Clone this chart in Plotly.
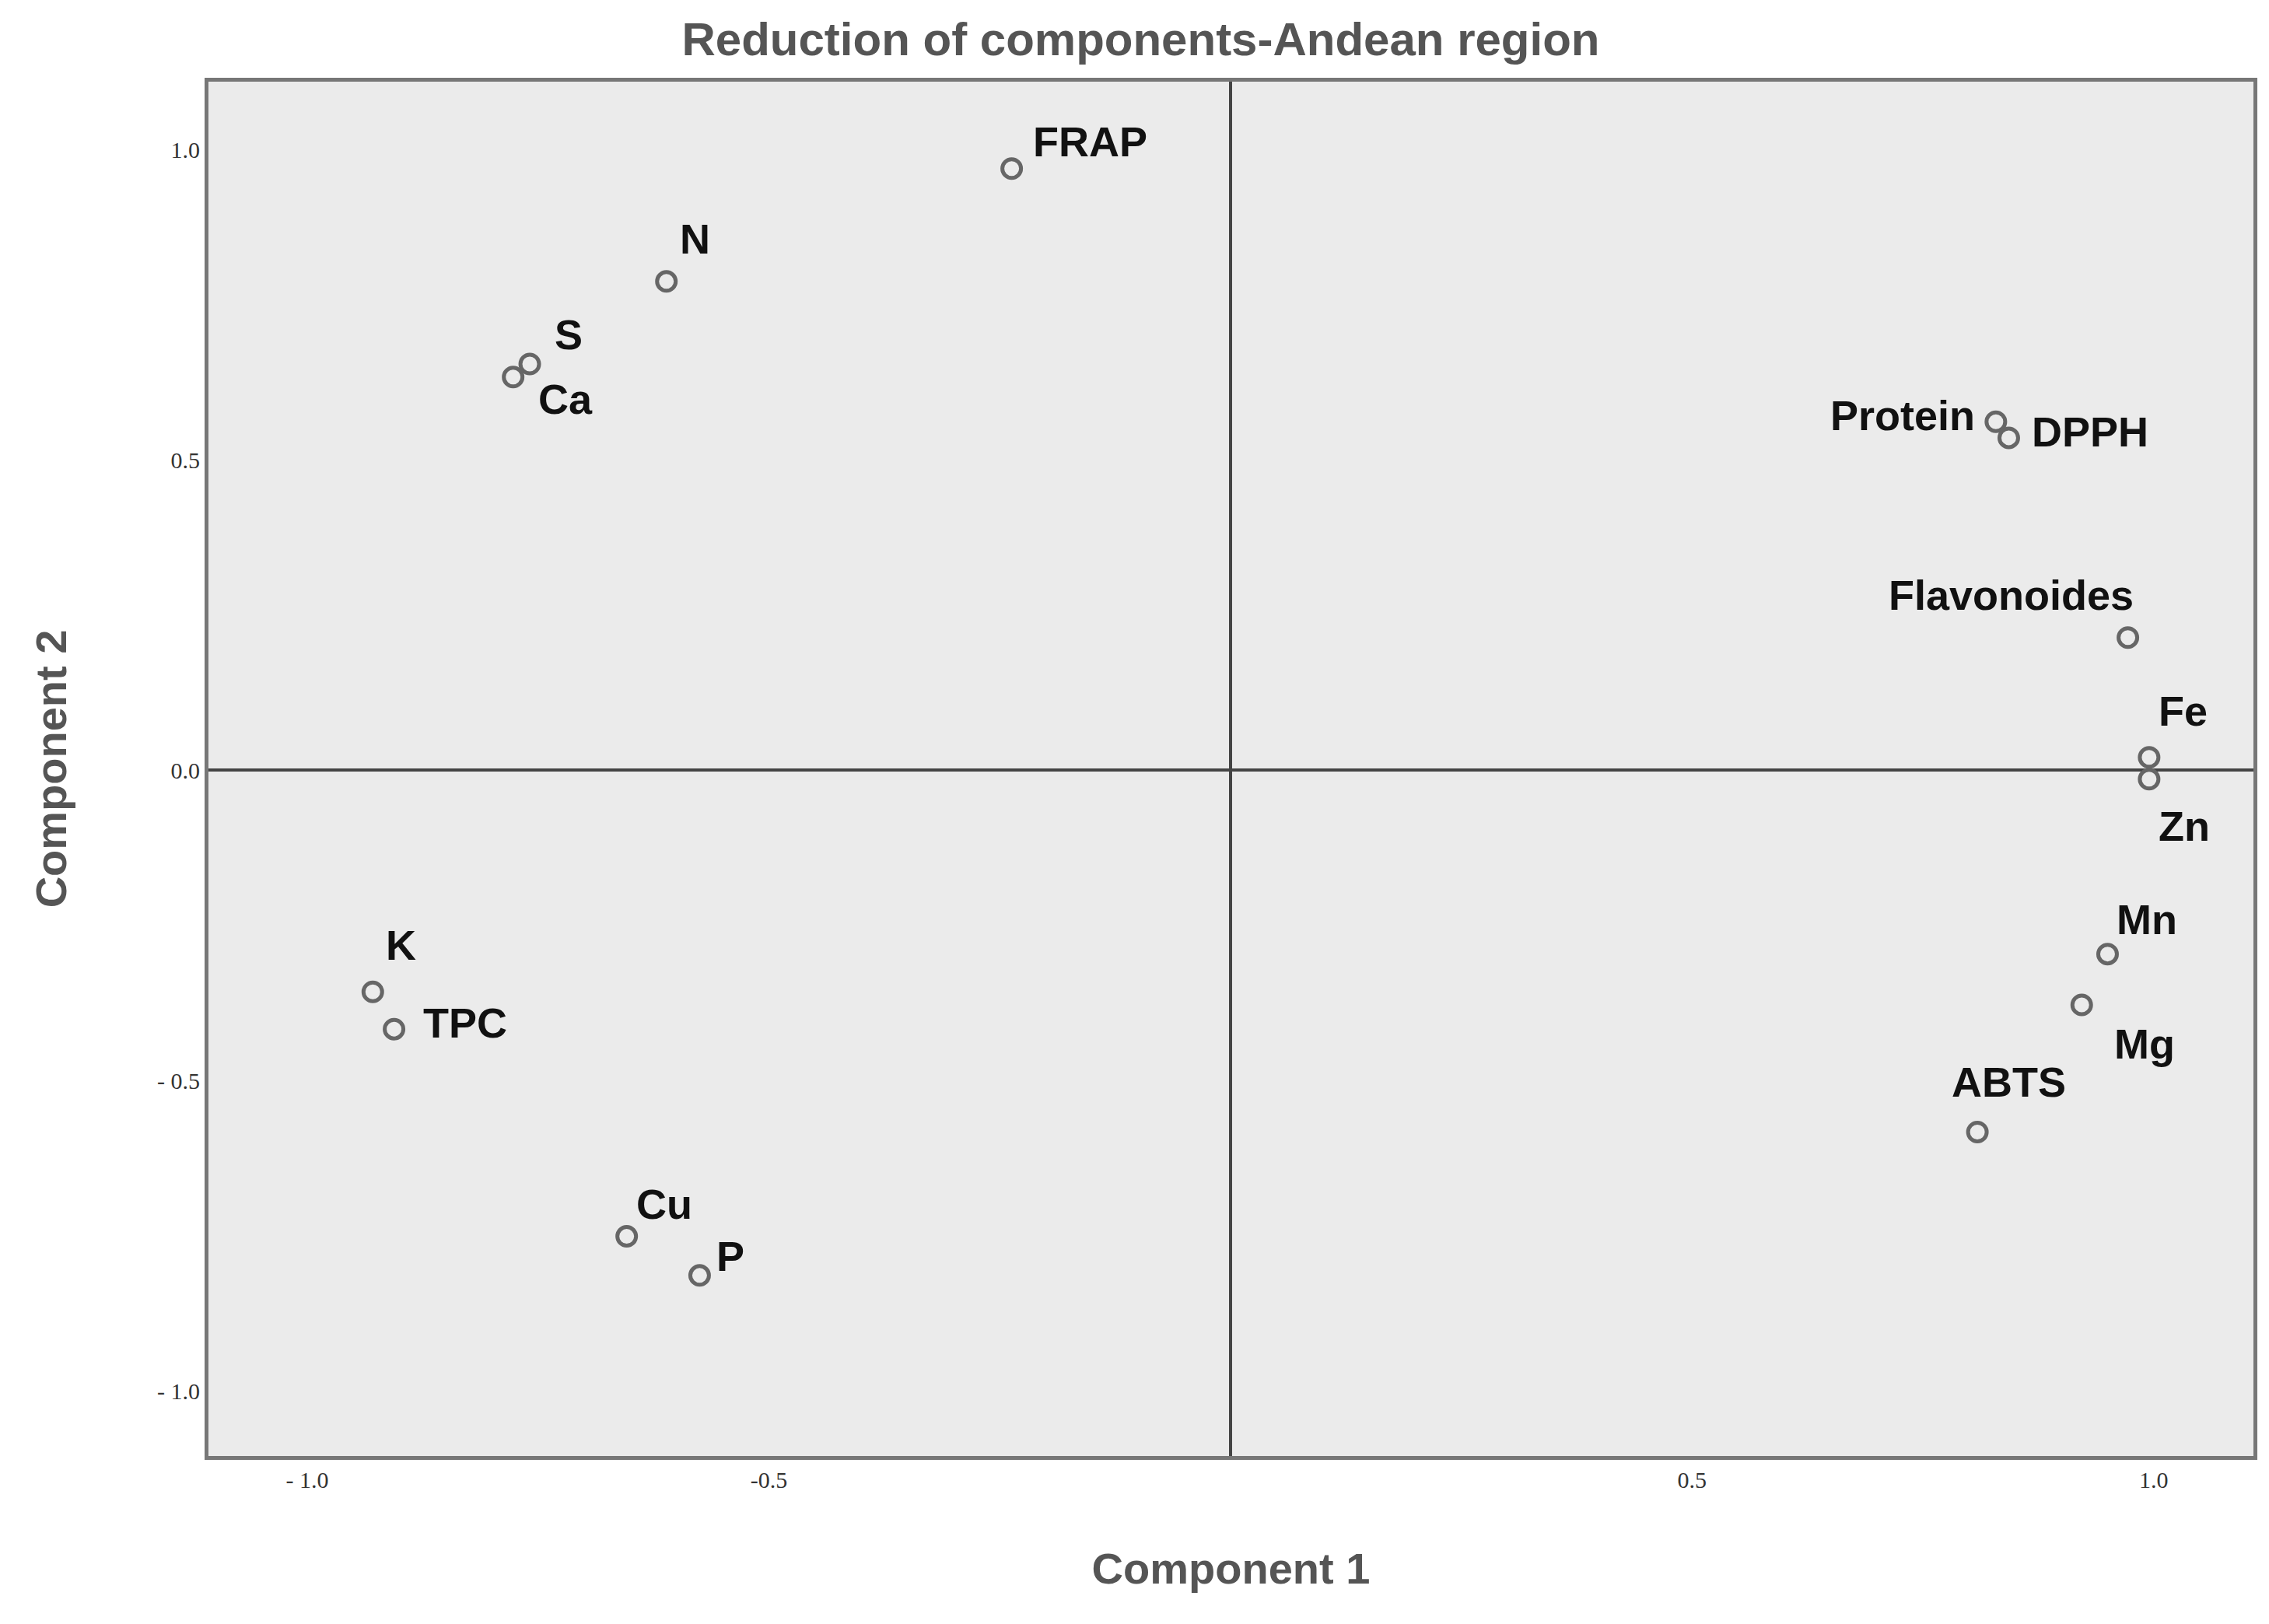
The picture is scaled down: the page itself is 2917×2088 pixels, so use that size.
import plotly.graph_objects as go

labels = ["FRAP","N","S","Ca","Protein","DPPH","Flavonoides","Fe","Zn","Mn","Mg","ABTS","K","TPC","Cu","P"]
comp1 = [-0.237,-0.611,-0.759,-0.777,0.829,0.843,0.972,0.995,0.995,0.950,0.922,0.809,-0.929,-0.906,-0.654,-0.575]
comp2 = [0.970,0.788,0.655,0.634,0.562,0.536,0.214,0.021,-0.014,-0.296,-0.378,-0.583,-0.357,-0.417,-0.751,-0.814]
offsets = {"FRAP":(25,-35,"left"),"N":(15,-55,"left"),"S":(30,-38,"left"),"Ca":(30,28,"left"),
           "Protein":(-25,-8,"right"),"DPPH":(28,-8,"left"),"Flavonoides":(-150,-55,"center"),
           "Fe":(10,-60,"left"),"Zn":(10,60,"left"),"Mn":(10,-45,"left"),"Mg":(40,50,"left"),
           "ABTS":(40,-65,"center"),"K":(15,-60,"left"),"TPC":(35,-8,"left"),"Cu":(10,-42,"left"),"P":(20,-25,"left")}

fig = go.Figure(go.Scatter(x=comp1, y=comp2, mode="markers",
    marker=dict(symbol="circle-open", size=24, color="#666", line=dict(width=5, color="#666"))))
for lab, x, y in zip(labels, comp1, comp2):
    dx, dy, anc = offsets[lab]
    fig.add_annotation(x=x, y=y, text="<b>" + lab + "</b>", showarrow=False, xshift=dx, yshift=-dy,
                       xanchor=anc, font=dict(size=54, family="Liberation Sans", color="#111"))
fig.update_layout(
    width=2917, height=2088, plot_bgcolor="#ebebeb", paper_bgcolor="white",
    margin=dict(l=260, r=28, t=97, b=224), showlegend=False,
    title=dict(text="<b>Reduction of components-Andean region</b>", x=0.5, xanchor="center", y=0.99,
               font=dict(size=60, family="Liberation Sans", color="#555")),
    xaxis=dict(range=[-1.107,1.108], tickvals=[-1.0,-0.5,0.5,1.0], ticktext=["- 1.0","-0.5","0.5","1.0"],
               showgrid=False, zeroline=True, zerolinecolor="#444", zerolinewidth=4,
               showline=True, mirror=True, linecolor="#777", linewidth=5, ticks="",
               tickfont=dict(size=30, family="Liberation Serif", color="#333"),
               title=dict(text="<b>Component 1</b>", font=dict(size=56, family="Liberation Sans", color="#555"), standoff=80)),
    yaxis=dict(range=[-1.105,1.11], tickvals=[-1.0,-0.5,0.0,0.5,1.0], ticktext=["- 1.0","- 0.5","0.0","0.5","1.0"],
               showgrid=False, zeroline=True, zerolinecolor="#444", zerolinewidth=4,
               showline=True, mirror=True, linecolor="#777", linewidth=5, ticks="",
               tickfont=dict(size=30, family="Liberation Serif", color="#333"),
               title=dict(text="<b>Component 2</b>", font=dict(size=56, family="Liberation Sans", color="#555"), standoff=100)),
)
fig.write_html("out.html")
